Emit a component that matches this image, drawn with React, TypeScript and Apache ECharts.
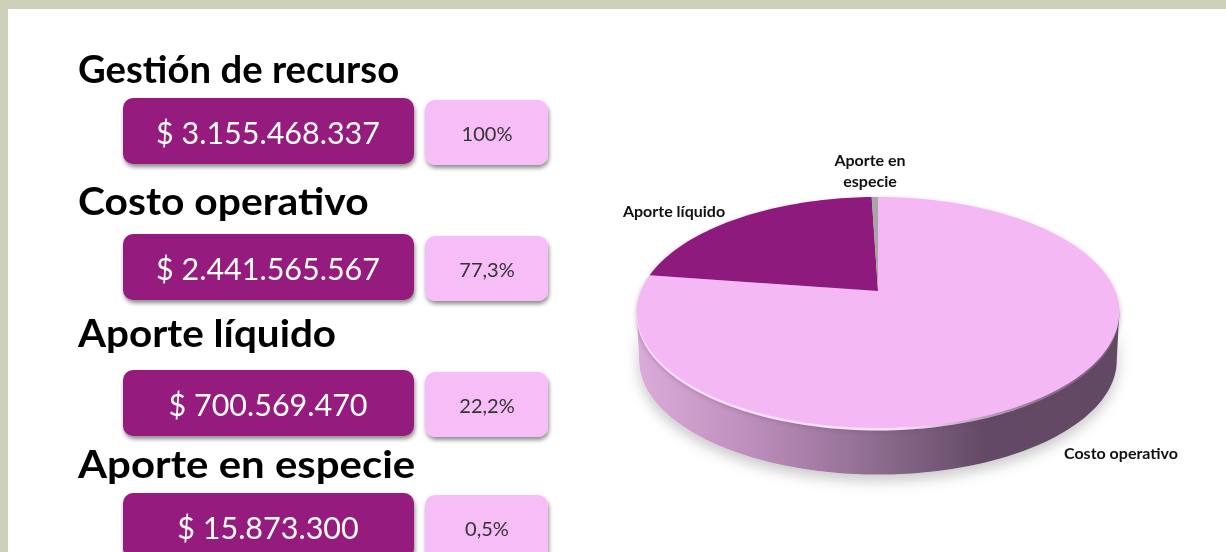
import React, { useEffect, useRef } from "react";
import * as echarts from "echarts";

const titles = ["Gestión de recurso", "Costo operativo", "Aporte líquido", "Aporte en especie"];
const amounts = ["$ 3.155.468.337", "$ 2.441.565.567", "$ 700.569.470", "$ 15.873.300"];
const percents = ["100%", "77,3%", "22,2%", "0,5%"];

const sliceNames = ["Costo operativo", "Aporte líquido", "Aporte en\nespecie"];
const sliceValues = [2441565567, 700569470, 15873300];
const sliceColors = ["#f4b9f4", "#8f1a7d", "#a6a6a6"];

const titleBaselines = [82, 214, 346, 478];
const titleStretch = [0.995, 1.06, 1.05, 1.09];
const boxTops = [98, 234, 370, 493];
const labelAnchors = [
  { x: 1121, y: 452 },
  { x: 674, y: 210 },
  { x: 870, y: 170 },
];

const CX = 878, CY = 291, RX = 237, AY = 111.5, K = 0.186;
const EXTREME = 100.7;

const project = (deg: number, s = 1, dy = 0): number[] => {
  const t = (deg * Math.PI) / 180;
  const u = Math.sin(t), v = Math.cos(t);
  const d = 1 + K * v;
  return [CX + (s * RX * u) / d, CY + dy - (s * AY * v) / d];
};

const arc = (a: number, b: number, s = 1, dy = 0): number[][] => {
  const n = Math.max(2, Math.ceil(Math.abs(b - a) / 1.5));
  const pts: number[][] = [];
  for (let i = 0; i <= n; i++) pts.push(project(a + ((b - a) * i) / n, s, dy));
  return pts;
};

const total = sliceValues.reduce((x, y) => x + y, 0);

function renderBody(_: any, api: any) {
  const depth = api.value(0);
  const wall = [...arc(EXTREME, 360 - EXTREME), ...arc(360 - EXTREME, EXTREME, 0.99, depth)];
  return {
    type: "group",
    children: [
      {
        type: "polygon",
        shape: { points: wall },
        style: {
          fill: new echarts.graphic.LinearGradient(0, 0, 1, 0, [
            { offset: 0, color: "#dcabd9" },
            { offset: 0.25, color: "#bb8cb9" },
            { offset: 0.5, color: "#8c6c8e" },
            { offset: 0.72, color: "#644a65" },
            { offset: 1, color: "#624963" },
          ]),
          shadowBlur: 14,
          shadowOffsetY: 6,
          shadowColor: "rgba(0,0,0,0.22)",
        },
      },
      {
        type: "polygon",
        shape: { points: arc(0, 360, 1, 2.5) },
        style: {
          fill: new echarts.graphic.LinearGradient(0, 0, 1, 0, [
            { offset: 0, color: "#fbe0fa" },
            { offset: 0.55, color: "#fbe0fa" },
            { offset: 0.85, color: "#8f6f90" },
            { offset: 1, color: "#7d5f7e" },
          ]),
          shadowBlur: 5,
          shadowColor: "rgba(90,60,90,0.45)",
        },
      },
    ],
  };
}

function renderSlice(params: any, api: any) {
  const i = params.dataIndex;
  let start = 0;
  for (let k = 0; k < i; k++) start += sliceValues[k];
  const a0 = (start / total) * 360;
  const a1 = ((start + api.value(0)) / total) * 360;
  const anchor = labelAnchors[i];
  return {
    type: "group",
    children: [
      {
        type: "polygon",
        shape: { points: [[CX, CY], ...arc(a0, a1)] },
        style: { fill: sliceColors[i] },
      },
      {
        type: "text",
        x: anchor.x,
        y: anchor.y,
        style: {
          text: sliceNames[i],
          fill: "#111111",
          font: 'bold 16px Lato, sans-serif',
          align: "center",
          verticalAlign: "middle",
          lineHeight: 21,
        },
      },
    ],
  };
}

function buildGraphic() {
  const els: any[] = [
    { type: "rect", z: -10, shape: { x: 0, y: 0, width: 1226, height: 552 }, style: { fill: "#cdcfb9" } },
    { type: "rect", z: -9, shape: { x: 8, y: 9, width: 1218, height: 543 }, style: { fill: "#ffffff" } },
  ];
  const shadow = { shadowBlur: 4, shadowOffsetX: 1, shadowOffsetY: 3, shadowColor: "rgba(0,0,0,0.45)" };
  titles.forEach((t, i) => {
    const top = boxTops[i];
    els.push({
      type: "text",
      z: 1,
      x: 78,
      y: titleBaselines[i] + 5,
      scaleX: titleStretch[i],
      style: { text: t, fill: "#000000", font: 'bold 38.5px Lato, sans-serif', verticalAlign: "bottom" },
    });
    els.push({
      type: "rect",
      z: 1,
      shape: { x: 123, y: top, width: 291, height: 66, r: 10 },
      style: { fill: "#951b7e", ...shadow },
    });
    els.push({
      type: "rect",
      z: 1,
      shape: { x: 425, y: top + 2, width: 123, height: 65, r: 10 },
      style: { fill: "#f7bdf7", ...shadow },
    });
    els.push({
      type: "text",
      z: 2,
      x: 268,
      y: top + 34,
      style: { text: amounts[i], fill: "#ffffff", font: '30.5px Lato, sans-serif', align: "center", verticalAlign: "middle" },
    });
    els.push({
      type: "text",
      z: 2,
      x: 487,
      y: top + 35,
      style: { text: percents[i], fill: "#333333", font: '20px Lato, sans-serif', align: "center", verticalAlign: "middle" },
    });
  });
  return els;
}

export default function App() {
  const ref = useRef<HTMLDivElement>(null);
  useEffect(() => {
    const chart = echarts.init(ref.current!, undefined, { renderer: "svg" });
    chart.setOption({
      animation: false,
      graphic: { elements: buildGraphic() },
      series: [
        {
          type: "custom",
          coordinateSystem: "none",
          renderItem: renderBody,
          data: [[48]],
          silent: true,
          z: 2,
        },
        {
          type: "custom",
          coordinateSystem: "none",
          renderItem: renderSlice,
          data: sliceValues.map((v) => [v]),
          silent: true,
          z: 3,
        },
      ],
    });
    return () => chart.dispose();
  }, []);
  return (
    <div
      ref={ref}
      style={{ position: "fixed", left: 0, top: 0, width: 1226, height: 552, filter: "blur(0.5px)" }}
    />
  );
}
